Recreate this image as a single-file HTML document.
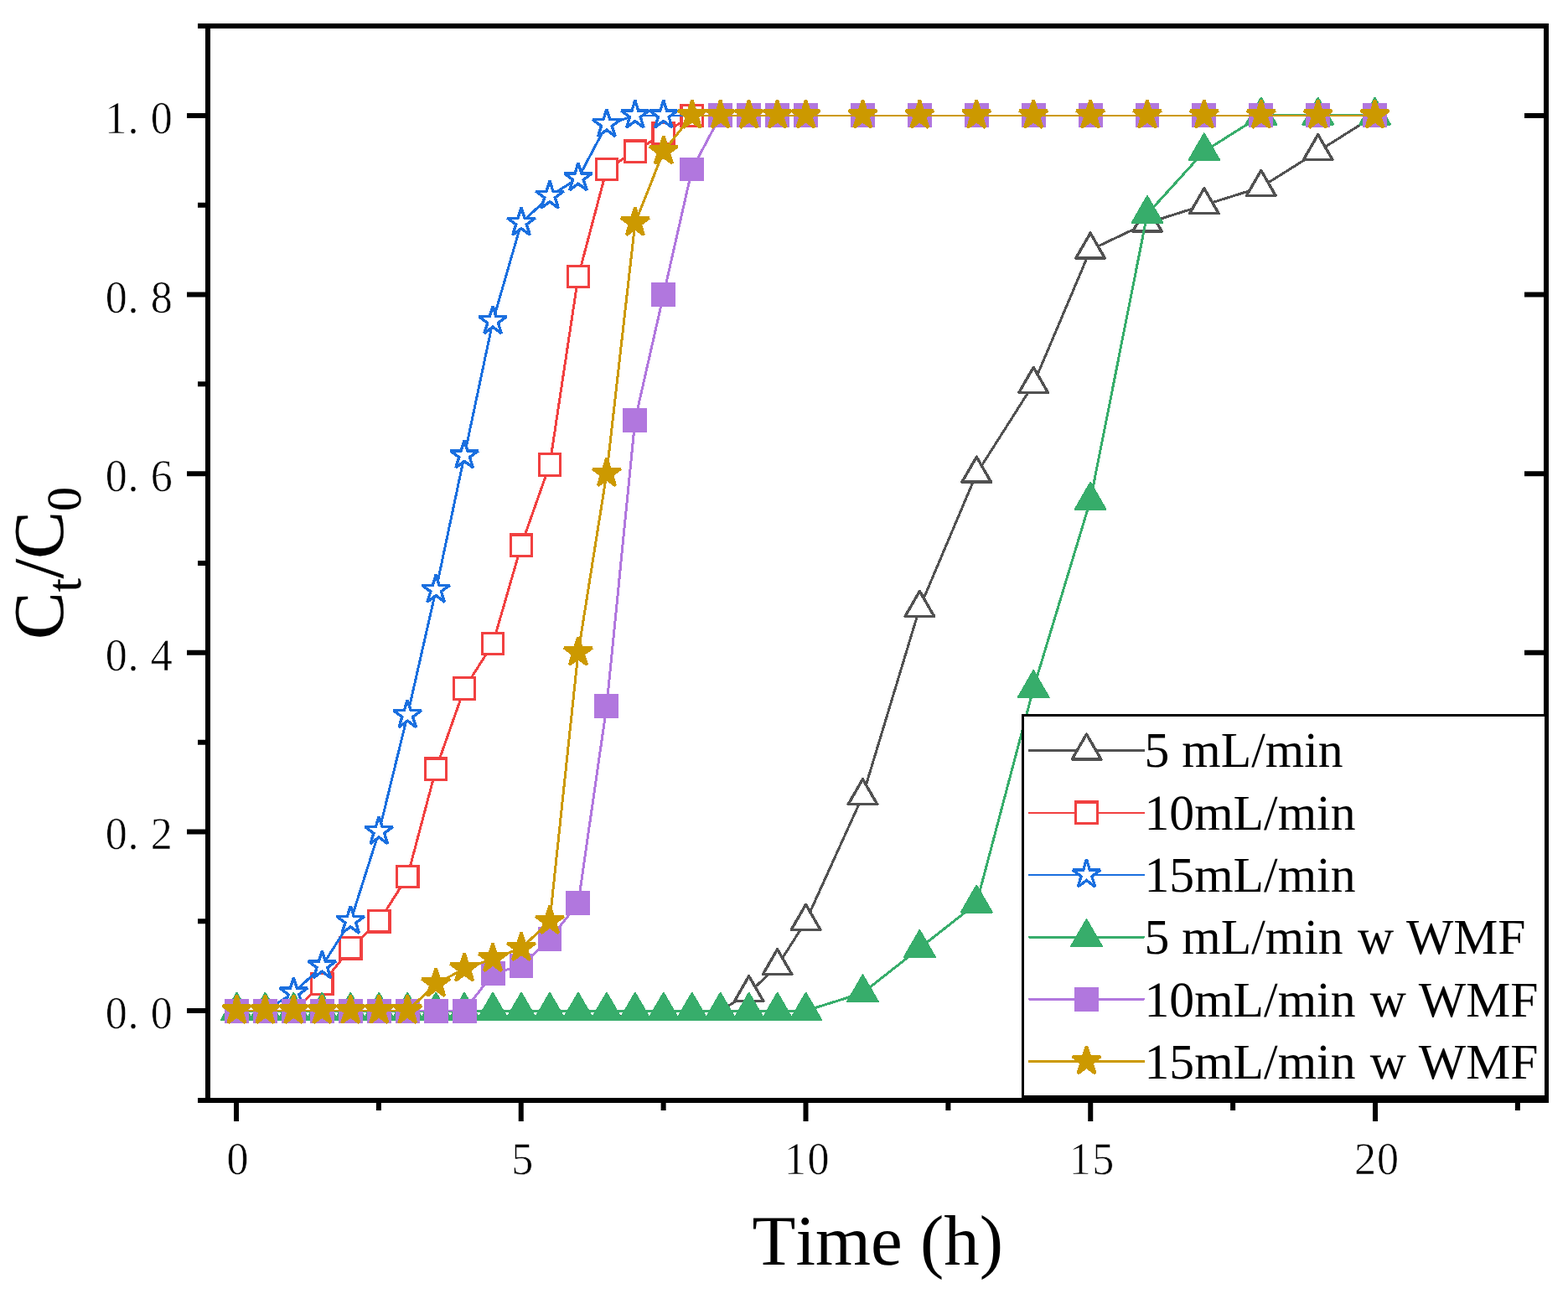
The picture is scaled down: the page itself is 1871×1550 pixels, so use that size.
<!DOCTYPE html>
<html lang="en">
<head>
<meta charset="utf-8">
<title>Ct/C0 vs Time (h)</title>
<style>
html,body{margin:0;padding:0;background:#fff;}
body{width:1871px;height:1550px;overflow:hidden;}
svg{display:block;}
text{fill:#000;font-kerning:none;font-variant-ligatures:none;text-rendering:geometricPrecision;}
.tick{font-family:"Liberation Serif",serif;font-size:54.5px;stroke:#fff;stroke-width:0.6px;}
.leg{font-family:"Liberation Serif",serif;font-size:59.7px;}
.ttl{font-family:"Liberation Serif",serif;font-size:84.9px;}
</style>
</head>
<body>
<svg width="1871" height="1550" viewBox="0 0 1871 1550">
<rect x="0" y="0" width="1871" height="1550" fill="#fff"/>
<g id="series" fill="none" shape-rendering="crispEdges">
<g>
<path d="M282.5 1206.1L316.45 1206.1M316.45 1206.1L350.4 1206.1M350.4 1206.1L384.36 1206.1M384.36 1206.1L418.31 1206.1M418.31 1206.1L452.26 1206.1M452.26 1206.1L486.22 1206.1M486.22 1206.1L520.17 1206.1M520.17 1206.1L554.12 1206.1M554.12 1206.1L588.07 1206.1M588.07 1206.1L622.02 1206.1M622.02 1206.1L655.98 1206.1M655.98 1206.1L689.93 1206.1M689.93 1206.1L723.88 1206.1M723.88 1206.1L757.84 1206.1M757.84 1206.1L791.79 1206.1M791.79 1206.1L825.74 1206.1M825.74 1206.1L859.69 1206.1" fill="none" stroke="#515151" stroke-width="3" stroke-linecap="butt"/>
<path d="M859.69 1206.1L893.64 1184.74M893.64 1184.74L927.6 1152.69M927.6 1152.69L961.55 1099.28M961.55 1099.28L1029.45 949.73M1029.45 949.73L1097.36 725.41M1097.36 725.41L1165.26 565.18M1165.26 565.18L1233.17 458.36M1233.17 458.36L1301.08 298.13M1301.08 298.13L1368.98 266.08M1368.98 266.08L1436.88 244.72M1436.88 244.72L1504.79 223.36M1504.79 223.36L1572.69 180.63M1572.69 180.63L1640.6 137.9" fill="none" stroke="#515151" stroke-width="3" stroke-linecap="round"/>
<path d="M282.5 1186.1L299.82 1216.1L265.18 1216.1Z" fill="#fff" stroke="#515151" stroke-width="3.4" stroke-linejoin="round"/>
<path d="M316.45 1186.1L333.77 1216.1L299.13 1216.1Z" fill="#fff" stroke="#515151" stroke-width="3.4" stroke-linejoin="round"/>
<path d="M350.4 1186.1L367.73 1216.1L333.08 1216.1Z" fill="#fff" stroke="#515151" stroke-width="3.4" stroke-linejoin="round"/>
<path d="M384.36 1186.1L401.68 1216.1L367.04 1216.1Z" fill="#fff" stroke="#515151" stroke-width="3.4" stroke-linejoin="round"/>
<path d="M418.31 1186.1L435.63 1216.1L400.99 1216.1Z" fill="#fff" stroke="#515151" stroke-width="3.4" stroke-linejoin="round"/>
<path d="M452.26 1186.1L469.58 1216.1L434.94 1216.1Z" fill="#fff" stroke="#515151" stroke-width="3.4" stroke-linejoin="round"/>
<path d="M486.22 1186.1L503.54 1216.1L468.89 1216.1Z" fill="#fff" stroke="#515151" stroke-width="3.4" stroke-linejoin="round"/>
<path d="M520.17 1186.1L537.49 1216.1L502.85 1216.1Z" fill="#fff" stroke="#515151" stroke-width="3.4" stroke-linejoin="round"/>
<path d="M554.12 1186.1L571.44 1216.1L536.8 1216.1Z" fill="#fff" stroke="#515151" stroke-width="3.4" stroke-linejoin="round"/>
<path d="M588.07 1186.1L605.39 1216.1L570.75 1216.1Z" fill="#fff" stroke="#515151" stroke-width="3.4" stroke-linejoin="round"/>
<path d="M622.02 1186.1L639.35 1216.1L604.7 1216.1Z" fill="#fff" stroke="#515151" stroke-width="3.4" stroke-linejoin="round"/>
<path d="M655.98 1186.1L673.3 1216.1L638.66 1216.1Z" fill="#fff" stroke="#515151" stroke-width="3.4" stroke-linejoin="round"/>
<path d="M689.93 1186.1L707.25 1216.1L672.61 1216.1Z" fill="#fff" stroke="#515151" stroke-width="3.4" stroke-linejoin="round"/>
<path d="M723.88 1186.1L741.2 1216.1L706.56 1216.1Z" fill="#fff" stroke="#515151" stroke-width="3.4" stroke-linejoin="round"/>
<path d="M757.84 1186.1L775.16 1216.1L740.51 1216.1Z" fill="#fff" stroke="#515151" stroke-width="3.4" stroke-linejoin="round"/>
<path d="M791.79 1186.1L809.11 1216.1L774.47 1216.1Z" fill="#fff" stroke="#515151" stroke-width="3.4" stroke-linejoin="round"/>
<path d="M825.74 1186.1L843.06 1216.1L808.42 1216.1Z" fill="#fff" stroke="#515151" stroke-width="3.4" stroke-linejoin="round"/>
<path d="M859.69 1186.1L877.01 1216.1L842.37 1216.1Z" fill="#fff" stroke="#515151" stroke-width="3.4" stroke-linejoin="round"/>
<path d="M893.64 1164.74L910.97 1194.74L876.32 1194.74Z" fill="#fff" stroke="#515151" stroke-width="3.4" stroke-linejoin="round"/>
<path d="M927.6 1132.69L944.92 1162.69L910.28 1162.69Z" fill="#fff" stroke="#515151" stroke-width="3.4" stroke-linejoin="round"/>
<path d="M961.55 1079.28L978.87 1109.28L944.23 1109.28Z" fill="#fff" stroke="#515151" stroke-width="3.4" stroke-linejoin="round"/>
<path d="M1029.45 929.73L1046.78 959.73L1012.13 959.73Z" fill="#fff" stroke="#515151" stroke-width="3.4" stroke-linejoin="round"/>
<path d="M1097.36 705.41L1114.68 735.41L1080.04 735.41Z" fill="#fff" stroke="#515151" stroke-width="3.4" stroke-linejoin="round"/>
<path d="M1165.26 545.18L1182.59 575.18L1147.94 575.18Z" fill="#fff" stroke="#515151" stroke-width="3.4" stroke-linejoin="round"/>
<path d="M1233.17 438.36L1250.49 468.36L1215.85 468.36Z" fill="#fff" stroke="#515151" stroke-width="3.4" stroke-linejoin="round"/>
<path d="M1301.08 278.13L1318.4 308.13L1283.75 308.13Z" fill="#fff" stroke="#515151" stroke-width="3.4" stroke-linejoin="round"/>
<path d="M1368.98 246.08L1386.3 276.08L1351.66 276.08Z" fill="#fff" stroke="#515151" stroke-width="3.4" stroke-linejoin="round"/>
<path d="M1436.88 224.72L1454.21 254.72L1419.56 254.72Z" fill="#fff" stroke="#515151" stroke-width="3.4" stroke-linejoin="round"/>
<path d="M1504.79 203.36L1522.11 233.36L1487.47 233.36Z" fill="#fff" stroke="#515151" stroke-width="3.4" stroke-linejoin="round"/>
<path d="M1572.69 160.63L1590.02 190.63L1555.37 190.63Z" fill="#fff" stroke="#515151" stroke-width="3.4" stroke-linejoin="round"/>
<path d="M1640.6 117.9L1657.92 147.9L1623.28 147.9Z" fill="#fff" stroke="#515151" stroke-width="3.4" stroke-linejoin="round"/>
</g>
<g>
<path d="M282.5 1206.1L316.45 1206.1M316.45 1206.1L350.4 1206.1M825.74 137.9L859.69 137.9M859.69 137.9L893.64 137.9M893.64 137.9L927.6 137.9M927.6 137.9L961.55 137.9M961.55 137.9L1029.45 137.9M1029.45 137.9L1097.36 137.9M1097.36 137.9L1165.26 137.9M1165.26 137.9L1233.17 137.9M1233.17 137.9L1301.08 137.9M1301.08 137.9L1368.98 137.9M1368.98 137.9L1436.88 137.9M1436.88 137.9L1504.79 137.9M1504.79 137.9L1572.69 137.9M1572.69 137.9L1640.6 137.9" fill="none" stroke="#F14040" stroke-width="2.1" stroke-linecap="butt"/>
<path d="M350.4 1206.1L384.36 1174.05M384.36 1174.05L418.31 1131.33M418.31 1131.33L452.26 1099.28M452.26 1099.28L486.22 1045.87M486.22 1045.87L520.17 917.69M520.17 917.69L554.12 821.55M554.12 821.55L588.07 768.14M588.07 768.14L622.02 650.64M622.02 650.64L655.98 554.5M655.98 554.5L689.93 330.18M689.93 330.18L723.88 201.99M723.88 201.99L757.84 180.63M757.84 180.63L791.79 159.26M791.79 159.26L825.74 137.9" fill="none" stroke="#F14040" stroke-width="3" stroke-linecap="round"/>
<path d="M269.8 1193.4L295.2 1193.4L295.2 1218.8L269.8 1218.8Z" fill="#fff" stroke="#F14040" stroke-width="3.2" stroke-linejoin="miter"/>
<path d="M303.75 1193.4L329.15 1193.4L329.15 1218.8L303.75 1218.8Z" fill="#fff" stroke="#F14040" stroke-width="3.2" stroke-linejoin="miter"/>
<path d="M337.7 1193.4L363.1 1193.4L363.1 1218.8L337.7 1218.8Z" fill="#fff" stroke="#F14040" stroke-width="3.2" stroke-linejoin="miter"/>
<path d="M371.66 1161.35L397.06 1161.35L397.06 1186.75L371.66 1186.75Z" fill="#fff" stroke="#F14040" stroke-width="3.2" stroke-linejoin="miter"/>
<path d="M405.61 1118.63L431.01 1118.63L431.01 1144.03L405.61 1144.03Z" fill="#fff" stroke="#F14040" stroke-width="3.2" stroke-linejoin="miter"/>
<path d="M439.56 1086.58L464.96 1086.58L464.96 1111.98L439.56 1111.98Z" fill="#fff" stroke="#F14040" stroke-width="3.2" stroke-linejoin="miter"/>
<path d="M473.52 1033.17L498.92 1033.17L498.92 1058.57L473.52 1058.57Z" fill="#fff" stroke="#F14040" stroke-width="3.2" stroke-linejoin="miter"/>
<path d="M507.47 904.99L532.87 904.99L532.87 930.39L507.47 930.39Z" fill="#fff" stroke="#F14040" stroke-width="3.2" stroke-linejoin="miter"/>
<path d="M541.42 808.85L566.82 808.85L566.82 834.25L541.42 834.25Z" fill="#fff" stroke="#F14040" stroke-width="3.2" stroke-linejoin="miter"/>
<path d="M575.37 755.44L600.77 755.44L600.77 780.84L575.37 780.84Z" fill="#fff" stroke="#F14040" stroke-width="3.2" stroke-linejoin="miter"/>
<path d="M609.32 637.94L634.73 637.94L634.73 663.34L609.32 663.34Z" fill="#fff" stroke="#F14040" stroke-width="3.2" stroke-linejoin="miter"/>
<path d="M643.28 541.8L668.68 541.8L668.68 567.2L643.28 567.2Z" fill="#fff" stroke="#F14040" stroke-width="3.2" stroke-linejoin="miter"/>
<path d="M677.23 317.48L702.63 317.48L702.63 342.88L677.23 342.88Z" fill="#fff" stroke="#F14040" stroke-width="3.2" stroke-linejoin="miter"/>
<path d="M711.18 189.29L736.58 189.29L736.58 214.69L711.18 214.69Z" fill="#fff" stroke="#F14040" stroke-width="3.2" stroke-linejoin="miter"/>
<path d="M745.13 167.93L770.54 167.93L770.54 193.33L745.13 193.33Z" fill="#fff" stroke="#F14040" stroke-width="3.2" stroke-linejoin="miter"/>
<path d="M779.09 146.56L804.49 146.56L804.49 171.96L779.09 171.96Z" fill="#fff" stroke="#F14040" stroke-width="3.2" stroke-linejoin="miter"/>
<path d="M813.04 125.2L838.44 125.2L838.44 150.6L813.04 150.6Z" fill="#fff" stroke="#F14040" stroke-width="3.2" stroke-linejoin="miter"/>
<path d="M846.99 125.2L872.39 125.2L872.39 150.6L846.99 150.6Z" fill="#fff" stroke="#F14040" stroke-width="3.2" stroke-linejoin="miter"/>
<path d="M880.94 125.2L906.35 125.2L906.35 150.6L880.94 150.6Z" fill="#fff" stroke="#F14040" stroke-width="3.2" stroke-linejoin="miter"/>
<path d="M914.9 125.2L940.3 125.2L940.3 150.6L914.9 150.6Z" fill="#fff" stroke="#F14040" stroke-width="3.2" stroke-linejoin="miter"/>
<path d="M948.85 125.2L974.25 125.2L974.25 150.6L948.85 150.6Z" fill="#fff" stroke="#F14040" stroke-width="3.2" stroke-linejoin="miter"/>
<path d="M1016.75 125.2L1042.15 125.2L1042.15 150.6L1016.75 150.6Z" fill="#fff" stroke="#F14040" stroke-width="3.2" stroke-linejoin="miter"/>
<path d="M1084.66 125.2L1110.06 125.2L1110.06 150.6L1084.66 150.6Z" fill="#fff" stroke="#F14040" stroke-width="3.2" stroke-linejoin="miter"/>
<path d="M1152.56 125.2L1177.96 125.2L1177.96 150.6L1152.56 150.6Z" fill="#fff" stroke="#F14040" stroke-width="3.2" stroke-linejoin="miter"/>
<path d="M1220.47 125.2L1245.87 125.2L1245.87 150.6L1220.47 150.6Z" fill="#fff" stroke="#F14040" stroke-width="3.2" stroke-linejoin="miter"/>
<path d="M1288.38 125.2L1313.78 125.2L1313.78 150.6L1288.38 150.6Z" fill="#fff" stroke="#F14040" stroke-width="3.2" stroke-linejoin="miter"/>
<path d="M1356.28 125.2L1381.68 125.2L1381.68 150.6L1356.28 150.6Z" fill="#fff" stroke="#F14040" stroke-width="3.2" stroke-linejoin="miter"/>
<path d="M1424.18 125.2L1449.59 125.2L1449.59 150.6L1424.18 150.6Z" fill="#fff" stroke="#F14040" stroke-width="3.2" stroke-linejoin="miter"/>
<path d="M1492.09 125.2L1517.49 125.2L1517.49 150.6L1492.09 150.6Z" fill="#fff" stroke="#F14040" stroke-width="3.2" stroke-linejoin="miter"/>
<path d="M1559.99 125.2L1585.39 125.2L1585.39 150.6L1559.99 150.6Z" fill="#fff" stroke="#F14040" stroke-width="3.2" stroke-linejoin="miter"/>
<path d="M1627.9 125.2L1653.3 125.2L1653.3 150.6L1627.9 150.6Z" fill="#fff" stroke="#F14040" stroke-width="3.2" stroke-linejoin="miter"/>
</g>
<g>
<path d="M282.5 1206.1L316.45 1206.1M757.84 137.9L791.79 137.9M791.79 137.9L825.74 137.9M825.74 137.9L859.69 137.9M859.69 137.9L893.64 137.9M893.64 137.9L927.6 137.9M927.6 137.9L961.55 137.9M961.55 137.9L1029.45 137.9M1029.45 137.9L1097.36 137.9M1097.36 137.9L1165.26 137.9M1165.26 137.9L1233.17 137.9M1233.17 137.9L1301.08 137.9M1301.08 137.9L1368.98 137.9M1368.98 137.9L1436.88 137.9M1436.88 137.9L1504.79 137.9M1504.79 137.9L1572.69 137.9M1572.69 137.9L1640.6 137.9" fill="none" stroke="#1A6FDF" stroke-width="2.1" stroke-linecap="butt"/>
<path d="M316.45 1206.1L350.4 1184.74M350.4 1184.74L384.36 1152.69M384.36 1152.69L418.31 1099.28M418.31 1099.28L452.26 992.46M452.26 992.46L486.22 853.59M486.22 853.59L520.17 704.05M520.17 704.05L554.12 543.82M554.12 543.82L588.07 383.59M588.07 383.59L622.02 266.08M622.02 266.08L655.98 234.04M655.98 234.04L689.93 212.67M689.93 212.67L723.88 148.58M723.88 148.58L757.84 137.9" fill="none" stroke="#1A6FDF" stroke-width="3" stroke-linecap="round"/>
<path d="M282.5 1187.9L286.42 1200.27L299.1 1200.27L288.84 1207.91L292.76 1220.28L282.5 1212.64L272.24 1220.28L276.16 1207.91L265.9 1200.27L278.58 1200.27Z" fill="#fff" stroke="#1A6FDF" stroke-width="3.4" stroke-linejoin="miter" stroke-miterlimit="2"/>
<path d="M316.45 1187.9L320.37 1200.27L333.05 1200.27L322.79 1207.91L326.71 1220.28L316.45 1212.64L306.19 1220.28L310.11 1207.91L299.85 1200.27L312.53 1200.27Z" fill="#fff" stroke="#1A6FDF" stroke-width="3.4" stroke-linejoin="miter" stroke-miterlimit="2"/>
<path d="M350.4 1166.54L354.32 1178.9L367 1178.9L356.75 1186.55L360.66 1198.92L350.4 1191.27L340.15 1198.92L344.06 1186.55L333.81 1178.9L346.49 1178.9Z" fill="#fff" stroke="#1A6FDF" stroke-width="3.4" stroke-linejoin="miter" stroke-miterlimit="2"/>
<path d="M384.36 1134.49L388.28 1146.86L400.96 1146.86L390.7 1154.5L394.62 1166.87L384.36 1159.23L374.1 1166.87L378.02 1154.5L367.76 1146.86L380.44 1146.86Z" fill="#fff" stroke="#1A6FDF" stroke-width="3.4" stroke-linejoin="miter" stroke-miterlimit="2"/>
<path d="M418.31 1081.08L422.23 1093.45L434.91 1093.45L424.65 1101.09L428.57 1113.46L418.31 1105.82L408.05 1113.46L411.97 1101.09L401.71 1093.45L414.39 1093.45Z" fill="#fff" stroke="#1A6FDF" stroke-width="3.4" stroke-linejoin="miter" stroke-miterlimit="2"/>
<path d="M452.26 974.26L456.18 986.63L468.86 986.63L458.6 994.27L462.52 1006.64L452.26 999L442 1006.64L445.92 994.27L435.66 986.63L448.34 986.63Z" fill="#fff" stroke="#1A6FDF" stroke-width="3.4" stroke-linejoin="miter" stroke-miterlimit="2"/>
<path d="M486.22 835.39L490.13 847.76L502.81 847.76L492.56 855.41L496.47 867.78L486.22 860.13L475.96 867.78L479.87 855.41L469.62 847.76L482.3 847.76Z" fill="#fff" stroke="#1A6FDF" stroke-width="3.4" stroke-linejoin="miter" stroke-miterlimit="2"/>
<path d="M520.17 685.85L524.09 698.21L536.77 698.21L526.51 705.86L530.43 718.23L520.17 710.58L509.91 718.23L513.83 705.86L503.57 698.21L516.25 698.21Z" fill="#fff" stroke="#1A6FDF" stroke-width="3.4" stroke-linejoin="miter" stroke-miterlimit="2"/>
<path d="M554.12 525.62L558.04 537.98L570.72 537.98L560.46 545.63L564.38 558L554.12 550.35L543.86 558L547.78 545.63L537.52 537.98L550.2 537.98Z" fill="#fff" stroke="#1A6FDF" stroke-width="3.4" stroke-linejoin="miter" stroke-miterlimit="2"/>
<path d="M588.07 365.39L591.99 377.75L604.67 377.75L594.41 385.4L598.33 397.77L588.07 390.12L577.81 397.77L581.73 385.4L571.47 377.75L584.15 377.75Z" fill="#fff" stroke="#1A6FDF" stroke-width="3.4" stroke-linejoin="miter" stroke-miterlimit="2"/>
<path d="M622.02 247.88L625.94 260.25L638.62 260.25L628.37 267.9L632.28 280.27L622.02 272.62L611.77 280.27L615.68 267.9L605.43 260.25L618.11 260.25Z" fill="#fff" stroke="#1A6FDF" stroke-width="3.4" stroke-linejoin="miter" stroke-miterlimit="2"/>
<path d="M655.98 215.84L659.9 228.21L672.58 228.21L662.32 235.85L666.24 248.22L655.98 240.58L645.72 248.22L649.64 235.85L639.38 228.21L652.06 228.21Z" fill="#fff" stroke="#1A6FDF" stroke-width="3.4" stroke-linejoin="miter" stroke-miterlimit="2"/>
<path d="M689.93 194.47L693.85 206.84L706.53 206.84L696.27 214.49L700.19 226.86L689.93 219.21L679.67 226.86L683.59 214.49L673.33 206.84L686.01 206.84Z" fill="#fff" stroke="#1A6FDF" stroke-width="3.4" stroke-linejoin="miter" stroke-miterlimit="2"/>
<path d="M723.88 130.38L727.8 142.75L740.48 142.75L730.22 150.39L734.14 162.76L723.88 155.12L713.62 162.76L717.54 150.39L707.28 142.75L719.96 142.75Z" fill="#fff" stroke="#1A6FDF" stroke-width="3.4" stroke-linejoin="miter" stroke-miterlimit="2"/>
<path d="M757.84 119.7L761.75 132.07L774.43 132.07L764.18 139.71L768.09 152.08L757.84 144.44L747.58 152.08L751.49 139.71L741.24 132.07L753.92 132.07Z" fill="#fff" stroke="#1A6FDF" stroke-width="3.4" stroke-linejoin="miter" stroke-miterlimit="2"/>
<path d="M791.79 119.7L795.71 132.07L808.39 132.07L798.13 139.71L802.05 152.08L791.79 144.44L781.53 152.08L785.45 139.71L775.19 132.07L787.87 132.07Z" fill="#fff" stroke="#1A6FDF" stroke-width="3.4" stroke-linejoin="miter" stroke-miterlimit="2"/>
<path d="M825.74 119.7L829.66 132.07L842.34 132.07L832.08 139.71L836 152.08L825.74 144.44L815.48 152.08L819.4 139.71L809.14 132.07L821.82 132.07Z" fill="#fff" stroke="#1A6FDF" stroke-width="3.4" stroke-linejoin="miter" stroke-miterlimit="2"/>
<path d="M859.69 119.7L863.61 132.07L876.29 132.07L866.03 139.71L869.95 152.08L859.69 144.44L849.43 152.08L853.35 139.71L843.09 132.07L855.77 132.07Z" fill="#fff" stroke="#1A6FDF" stroke-width="3.4" stroke-linejoin="miter" stroke-miterlimit="2"/>
<path d="M893.64 119.7L897.56 132.07L910.24 132.07L899.99 139.71L903.9 152.08L893.64 144.44L883.39 152.08L887.3 139.71L877.05 132.07L889.73 132.07Z" fill="#fff" stroke="#1A6FDF" stroke-width="3.4" stroke-linejoin="miter" stroke-miterlimit="2"/>
<path d="M927.6 119.7L931.52 132.07L944.2 132.07L933.94 139.71L937.86 152.08L927.6 144.44L917.34 152.08L921.26 139.71L911 132.07L923.68 132.07Z" fill="#fff" stroke="#1A6FDF" stroke-width="3.4" stroke-linejoin="miter" stroke-miterlimit="2"/>
<path d="M961.55 119.7L965.47 132.07L978.15 132.07L967.89 139.71L971.81 152.08L961.55 144.44L951.29 152.08L955.21 139.71L944.95 132.07L957.63 132.07Z" fill="#fff" stroke="#1A6FDF" stroke-width="3.4" stroke-linejoin="miter" stroke-miterlimit="2"/>
<path d="M1029.45 119.7L1033.37 132.07L1046.05 132.07L1035.8 139.71L1039.71 152.08L1029.45 144.44L1019.2 152.08L1023.11 139.71L1012.86 132.07L1025.54 132.07Z" fill="#fff" stroke="#1A6FDF" stroke-width="3.4" stroke-linejoin="miter" stroke-miterlimit="2"/>
<path d="M1097.36 119.7L1101.28 132.07L1113.96 132.07L1103.7 139.71L1107.62 152.08L1097.36 144.44L1087.1 152.08L1091.02 139.71L1080.76 132.07L1093.44 132.07Z" fill="#fff" stroke="#1A6FDF" stroke-width="3.4" stroke-linejoin="miter" stroke-miterlimit="2"/>
<path d="M1165.26 119.7L1169.18 132.07L1181.86 132.07L1171.61 139.71L1175.52 152.08L1165.26 144.44L1155.01 152.08L1158.92 139.71L1148.67 132.07L1161.35 132.07Z" fill="#fff" stroke="#1A6FDF" stroke-width="3.4" stroke-linejoin="miter" stroke-miterlimit="2"/>
<path d="M1233.17 119.7L1237.09 132.07L1249.77 132.07L1239.51 139.71L1243.43 152.08L1233.17 144.44L1222.91 152.08L1226.83 139.71L1216.57 132.07L1229.25 132.07Z" fill="#fff" stroke="#1A6FDF" stroke-width="3.4" stroke-linejoin="miter" stroke-miterlimit="2"/>
<path d="M1301.08 119.7L1304.99 132.07L1317.67 132.07L1307.42 139.71L1311.33 152.08L1301.08 144.44L1290.82 152.08L1294.73 139.71L1284.48 132.07L1297.16 132.07Z" fill="#fff" stroke="#1A6FDF" stroke-width="3.4" stroke-linejoin="miter" stroke-miterlimit="2"/>
<path d="M1368.98 119.7L1372.9 132.07L1385.58 132.07L1375.32 139.71L1379.24 152.08L1368.98 144.44L1358.72 152.08L1362.64 139.71L1352.38 132.07L1365.06 132.07Z" fill="#fff" stroke="#1A6FDF" stroke-width="3.4" stroke-linejoin="miter" stroke-miterlimit="2"/>
<path d="M1436.88 119.7L1440.8 132.07L1453.48 132.07L1443.23 139.71L1447.14 152.08L1436.88 144.44L1426.63 152.08L1430.54 139.71L1420.29 132.07L1432.97 132.07Z" fill="#fff" stroke="#1A6FDF" stroke-width="3.4" stroke-linejoin="miter" stroke-miterlimit="2"/>
<path d="M1504.79 119.7L1508.71 132.07L1521.39 132.07L1511.13 139.71L1515.05 152.08L1504.79 144.44L1494.53 152.08L1498.45 139.71L1488.19 132.07L1500.87 132.07Z" fill="#fff" stroke="#1A6FDF" stroke-width="3.4" stroke-linejoin="miter" stroke-miterlimit="2"/>
<path d="M1572.69 119.7L1576.61 132.07L1589.29 132.07L1579.04 139.71L1582.95 152.08L1572.69 144.44L1562.44 152.08L1566.35 139.71L1556.1 132.07L1568.78 132.07Z" fill="#fff" stroke="#1A6FDF" stroke-width="3.4" stroke-linejoin="miter" stroke-miterlimit="2"/>
<path d="M1640.6 119.7L1644.52 132.07L1657.2 132.07L1646.94 139.71L1650.86 152.08L1640.6 144.44L1630.34 152.08L1634.26 139.71L1624 132.07L1636.68 132.07Z" fill="#fff" stroke="#1A6FDF" stroke-width="3.4" stroke-linejoin="miter" stroke-miterlimit="2"/>
</g>
<g>
<path d="M282.5 1206.1L316.45 1206.1M316.45 1206.1L350.4 1206.1M350.4 1206.1L384.36 1206.1M384.36 1206.1L418.31 1206.1M418.31 1206.1L452.26 1206.1M452.26 1206.1L486.22 1206.1M486.22 1206.1L520.17 1206.1M520.17 1206.1L554.12 1206.1M554.12 1206.1L588.07 1206.1M588.07 1206.1L622.02 1206.1M622.02 1206.1L655.98 1206.1M655.98 1206.1L689.93 1206.1M689.93 1206.1L723.88 1206.1M723.88 1206.1L757.84 1206.1M757.84 1206.1L791.79 1206.1M791.79 1206.1L825.74 1206.1M825.74 1206.1L859.69 1206.1M859.69 1206.1L893.64 1206.1M893.64 1206.1L927.6 1206.1M927.6 1206.1L961.55 1206.1M1504.79 137.9L1572.69 137.9M1572.69 137.9L1640.6 137.9" fill="none" stroke="#37AD6B" stroke-width="3" stroke-linecap="butt"/>
<path d="M961.55 1206.1L1029.45 1184.74M1029.45 1184.74L1097.36 1131.33M1097.36 1131.33L1165.26 1077.92M1165.26 1077.92L1233.17 821.55M1233.17 821.55L1301.08 597.23M1301.08 597.23L1368.98 255.4M1368.98 255.4L1436.88 180.63M1436.88 180.63L1504.79 137.9" fill="none" stroke="#37AD6B" stroke-width="3" stroke-linecap="round"/>
<path d="M282.5 1184.9L300.86 1216.7L264.14 1216.7Z" fill="#37AD6B" stroke="#37AD6B" stroke-width="2.2" stroke-linejoin="round"/>
<path d="M316.45 1184.9L334.81 1216.7L298.09 1216.7Z" fill="#37AD6B" stroke="#37AD6B" stroke-width="2.2" stroke-linejoin="round"/>
<path d="M350.4 1184.9L368.76 1216.7L332.05 1216.7Z" fill="#37AD6B" stroke="#37AD6B" stroke-width="2.2" stroke-linejoin="round"/>
<path d="M384.36 1184.9L402.72 1216.7L366 1216.7Z" fill="#37AD6B" stroke="#37AD6B" stroke-width="2.2" stroke-linejoin="round"/>
<path d="M418.31 1184.9L436.67 1216.7L399.95 1216.7Z" fill="#37AD6B" stroke="#37AD6B" stroke-width="2.2" stroke-linejoin="round"/>
<path d="M452.26 1184.9L470.62 1216.7L433.9 1216.7Z" fill="#37AD6B" stroke="#37AD6B" stroke-width="2.2" stroke-linejoin="round"/>
<path d="M486.22 1184.9L504.57 1216.7L467.86 1216.7Z" fill="#37AD6B" stroke="#37AD6B" stroke-width="2.2" stroke-linejoin="round"/>
<path d="M520.17 1184.9L538.53 1216.7L501.81 1216.7Z" fill="#37AD6B" stroke="#37AD6B" stroke-width="2.2" stroke-linejoin="round"/>
<path d="M554.12 1184.9L572.48 1216.7L535.76 1216.7Z" fill="#37AD6B" stroke="#37AD6B" stroke-width="2.2" stroke-linejoin="round"/>
<path d="M588.07 1184.9L606.43 1216.7L569.71 1216.7Z" fill="#37AD6B" stroke="#37AD6B" stroke-width="2.2" stroke-linejoin="round"/>
<path d="M622.02 1184.9L640.38 1216.7L603.67 1216.7Z" fill="#37AD6B" stroke="#37AD6B" stroke-width="2.2" stroke-linejoin="round"/>
<path d="M655.98 1184.9L674.34 1216.7L637.62 1216.7Z" fill="#37AD6B" stroke="#37AD6B" stroke-width="2.2" stroke-linejoin="round"/>
<path d="M689.93 1184.9L708.29 1216.7L671.57 1216.7Z" fill="#37AD6B" stroke="#37AD6B" stroke-width="2.2" stroke-linejoin="round"/>
<path d="M723.88 1184.9L742.24 1216.7L705.52 1216.7Z" fill="#37AD6B" stroke="#37AD6B" stroke-width="2.2" stroke-linejoin="round"/>
<path d="M757.84 1184.9L776.19 1216.7L739.48 1216.7Z" fill="#37AD6B" stroke="#37AD6B" stroke-width="2.2" stroke-linejoin="round"/>
<path d="M791.79 1184.9L810.15 1216.7L773.43 1216.7Z" fill="#37AD6B" stroke="#37AD6B" stroke-width="2.2" stroke-linejoin="round"/>
<path d="M825.74 1184.9L844.1 1216.7L807.38 1216.7Z" fill="#37AD6B" stroke="#37AD6B" stroke-width="2.2" stroke-linejoin="round"/>
<path d="M859.69 1184.9L878.05 1216.7L841.33 1216.7Z" fill="#37AD6B" stroke="#37AD6B" stroke-width="2.2" stroke-linejoin="round"/>
<path d="M893.64 1184.9L912 1216.7L875.29 1216.7Z" fill="#37AD6B" stroke="#37AD6B" stroke-width="2.2" stroke-linejoin="round"/>
<path d="M927.6 1184.9L945.96 1216.7L909.24 1216.7Z" fill="#37AD6B" stroke="#37AD6B" stroke-width="2.2" stroke-linejoin="round"/>
<path d="M961.55 1184.9L979.91 1216.7L943.19 1216.7Z" fill="#37AD6B" stroke="#37AD6B" stroke-width="2.2" stroke-linejoin="round"/>
<path d="M1029.45 1163.54L1047.81 1195.34L1011.1 1195.34Z" fill="#37AD6B" stroke="#37AD6B" stroke-width="2.2" stroke-linejoin="round"/>
<path d="M1097.36 1110.13L1115.72 1141.93L1079 1141.93Z" fill="#37AD6B" stroke="#37AD6B" stroke-width="2.2" stroke-linejoin="round"/>
<path d="M1165.26 1056.72L1183.62 1088.52L1146.91 1088.52Z" fill="#37AD6B" stroke="#37AD6B" stroke-width="2.2" stroke-linejoin="round"/>
<path d="M1233.17 800.35L1251.53 832.15L1214.81 832.15Z" fill="#37AD6B" stroke="#37AD6B" stroke-width="2.2" stroke-linejoin="round"/>
<path d="M1301.08 576.03L1319.43 607.83L1282.72 607.83Z" fill="#37AD6B" stroke="#37AD6B" stroke-width="2.2" stroke-linejoin="round"/>
<path d="M1368.98 234.2L1387.34 266L1350.62 266Z" fill="#37AD6B" stroke="#37AD6B" stroke-width="2.2" stroke-linejoin="round"/>
<path d="M1436.88 159.43L1455.24 191.23L1418.53 191.23Z" fill="#37AD6B" stroke="#37AD6B" stroke-width="2.2" stroke-linejoin="round"/>
<path d="M1504.79 116.7L1523.15 148.5L1486.43 148.5Z" fill="#37AD6B" stroke="#37AD6B" stroke-width="2.2" stroke-linejoin="round"/>
<path d="M1572.69 116.7L1591.05 148.5L1554.34 148.5Z" fill="#37AD6B" stroke="#37AD6B" stroke-width="2.2" stroke-linejoin="round"/>
<path d="M1640.6 116.7L1658.96 148.5L1622.24 148.5Z" fill="#37AD6B" stroke="#37AD6B" stroke-width="2.2" stroke-linejoin="round"/>
</g>
<g>
<path d="M282.5 1206.1L316.45 1206.1M316.45 1206.1L350.4 1206.1M350.4 1206.1L384.36 1206.1M384.36 1206.1L418.31 1206.1M418.31 1206.1L452.26 1206.1M452.26 1206.1L486.22 1206.1M486.22 1206.1L520.17 1206.1M520.17 1206.1L554.12 1206.1M859.69 137.9L893.64 137.9M893.64 137.9L927.6 137.9M927.6 137.9L961.55 137.9M961.55 137.9L1029.45 137.9M1029.45 137.9L1097.36 137.9M1097.36 137.9L1165.26 137.9M1165.26 137.9L1233.17 137.9M1233.17 137.9L1301.08 137.9M1301.08 137.9L1368.98 137.9M1368.98 137.9L1436.88 137.9M1436.88 137.9L1504.79 137.9M1504.79 137.9L1572.69 137.9M1572.69 137.9L1640.6 137.9" fill="none" stroke="#B177DE" stroke-width="2.5" stroke-linecap="butt"/>
<path d="M554.12 1206.1L588.07 1161.77M588.07 1161.77L622.02 1152.16M622.02 1152.16L655.98 1120.64M655.98 1120.64L689.93 1077.92M689.93 1077.92L723.88 842.91M723.88 842.91L757.84 501.09M757.84 501.09L791.79 351.54M791.79 351.54L825.74 201.99M825.74 201.99L859.69 137.9" fill="none" stroke="#B177DE" stroke-width="3" stroke-linecap="round"/>
<path d="M269.05 1192.65L295.95 1192.65L295.95 1219.55L269.05 1219.55Z" fill="#B177DE" stroke="#B177DE" stroke-width="2" stroke-linejoin="miter"/>
<path d="M303 1192.65L329.9 1192.65L329.9 1219.55L303 1219.55Z" fill="#B177DE" stroke="#B177DE" stroke-width="2" stroke-linejoin="miter"/>
<path d="M336.95 1192.65L363.85 1192.65L363.85 1219.55L336.95 1219.55Z" fill="#B177DE" stroke="#B177DE" stroke-width="2" stroke-linejoin="miter"/>
<path d="M370.91 1192.65L397.81 1192.65L397.81 1219.55L370.91 1219.55Z" fill="#B177DE" stroke="#B177DE" stroke-width="2" stroke-linejoin="miter"/>
<path d="M404.86 1192.65L431.76 1192.65L431.76 1219.55L404.86 1219.55Z" fill="#B177DE" stroke="#B177DE" stroke-width="2" stroke-linejoin="miter"/>
<path d="M438.81 1192.65L465.71 1192.65L465.71 1219.55L438.81 1219.55Z" fill="#B177DE" stroke="#B177DE" stroke-width="2" stroke-linejoin="miter"/>
<path d="M472.77 1192.65L499.67 1192.65L499.67 1219.55L472.77 1219.55Z" fill="#B177DE" stroke="#B177DE" stroke-width="2" stroke-linejoin="miter"/>
<path d="M506.72 1192.65L533.62 1192.65L533.62 1219.55L506.72 1219.55Z" fill="#B177DE" stroke="#B177DE" stroke-width="2" stroke-linejoin="miter"/>
<path d="M540.67 1192.65L567.57 1192.65L567.57 1219.55L540.67 1219.55Z" fill="#B177DE" stroke="#B177DE" stroke-width="2" stroke-linejoin="miter"/>
<path d="M574.62 1148.32L601.52 1148.32L601.52 1175.22L574.62 1175.22Z" fill="#B177DE" stroke="#B177DE" stroke-width="2" stroke-linejoin="miter"/>
<path d="M608.57 1138.71L635.48 1138.71L635.48 1165.61L608.57 1165.61Z" fill="#B177DE" stroke="#B177DE" stroke-width="2" stroke-linejoin="miter"/>
<path d="M642.53 1107.19L669.43 1107.19L669.43 1134.09L642.53 1134.09Z" fill="#B177DE" stroke="#B177DE" stroke-width="2" stroke-linejoin="miter"/>
<path d="M676.48 1064.47L703.38 1064.47L703.38 1091.37L676.48 1091.37Z" fill="#B177DE" stroke="#B177DE" stroke-width="2" stroke-linejoin="miter"/>
<path d="M710.43 829.46L737.33 829.46L737.33 856.36L710.43 856.36Z" fill="#B177DE" stroke="#B177DE" stroke-width="2" stroke-linejoin="miter"/>
<path d="M744.38 487.64L771.29 487.64L771.29 514.54L744.38 514.54Z" fill="#B177DE" stroke="#B177DE" stroke-width="2" stroke-linejoin="miter"/>
<path d="M778.34 338.09L805.24 338.09L805.24 364.99L778.34 364.99Z" fill="#B177DE" stroke="#B177DE" stroke-width="2" stroke-linejoin="miter"/>
<path d="M812.29 188.54L839.19 188.54L839.19 215.44L812.29 215.44Z" fill="#B177DE" stroke="#B177DE" stroke-width="2" stroke-linejoin="miter"/>
<path d="M846.24 124.45L873.14 124.45L873.14 151.35L846.24 151.35Z" fill="#B177DE" stroke="#B177DE" stroke-width="2" stroke-linejoin="miter"/>
<path d="M880.19 124.45L907.1 124.45L907.1 151.35L880.19 151.35Z" fill="#B177DE" stroke="#B177DE" stroke-width="2" stroke-linejoin="miter"/>
<path d="M914.15 124.45L941.05 124.45L941.05 151.35L914.15 151.35Z" fill="#B177DE" stroke="#B177DE" stroke-width="2" stroke-linejoin="miter"/>
<path d="M948.1 124.45L975 124.45L975 151.35L948.1 151.35Z" fill="#B177DE" stroke="#B177DE" stroke-width="2" stroke-linejoin="miter"/>
<path d="M1016 124.45L1042.9 124.45L1042.9 151.35L1016 151.35Z" fill="#B177DE" stroke="#B177DE" stroke-width="2" stroke-linejoin="miter"/>
<path d="M1083.91 124.45L1110.81 124.45L1110.81 151.35L1083.91 151.35Z" fill="#B177DE" stroke="#B177DE" stroke-width="2" stroke-linejoin="miter"/>
<path d="M1151.81 124.45L1178.71 124.45L1178.71 151.35L1151.81 151.35Z" fill="#B177DE" stroke="#B177DE" stroke-width="2" stroke-linejoin="miter"/>
<path d="M1219.72 124.45L1246.62 124.45L1246.62 151.35L1219.72 151.35Z" fill="#B177DE" stroke="#B177DE" stroke-width="2" stroke-linejoin="miter"/>
<path d="M1287.62 124.45L1314.53 124.45L1314.53 151.35L1287.62 151.35Z" fill="#B177DE" stroke="#B177DE" stroke-width="2" stroke-linejoin="miter"/>
<path d="M1355.53 124.45L1382.43 124.45L1382.43 151.35L1355.53 151.35Z" fill="#B177DE" stroke="#B177DE" stroke-width="2" stroke-linejoin="miter"/>
<path d="M1423.43 124.45L1450.34 124.45L1450.34 151.35L1423.43 151.35Z" fill="#B177DE" stroke="#B177DE" stroke-width="2" stroke-linejoin="miter"/>
<path d="M1491.34 124.45L1518.24 124.45L1518.24 151.35L1491.34 151.35Z" fill="#B177DE" stroke="#B177DE" stroke-width="2" stroke-linejoin="miter"/>
<path d="M1559.24 124.45L1586.14 124.45L1586.14 151.35L1559.24 151.35Z" fill="#B177DE" stroke="#B177DE" stroke-width="2" stroke-linejoin="miter"/>
<path d="M1627.15 124.45L1654.05 124.45L1654.05 151.35L1627.15 151.35Z" fill="#B177DE" stroke="#B177DE" stroke-width="2" stroke-linejoin="miter"/>
</g>
<g>
<path d="M282.5 1206.1L316.45 1206.1M316.45 1206.1L350.4 1206.1M350.4 1206.1L384.36 1206.1M384.36 1206.1L418.31 1206.1M418.31 1206.1L452.26 1206.1M452.26 1206.1L486.22 1206.1M825.74 137.9L859.69 137.9M859.69 137.9L893.64 137.9M893.64 137.9L927.6 137.9M927.6 137.9L961.55 137.9M961.55 137.9L1029.45 137.9M1029.45 137.9L1097.36 137.9M1097.36 137.9L1165.26 137.9M1165.26 137.9L1233.17 137.9M1233.17 137.9L1301.08 137.9M1301.08 137.9L1368.98 137.9M1368.98 137.9L1436.88 137.9M1436.88 137.9L1504.79 137.9M1504.79 137.9L1572.69 137.9M1572.69 137.9L1640.6 137.9" fill="none" stroke="#CC9900" stroke-width="2.1" stroke-linecap="butt"/>
<path d="M486.22 1206.1L520.17 1174.05M520.17 1174.05L554.12 1155.89M554.12 1155.89L588.07 1144.14M588.07 1144.14L622.02 1131.33M622.02 1131.33L655.98 1099.28M655.98 1099.28L689.93 778.82M689.93 778.82L723.88 565.18M723.88 565.18L757.84 266.08M757.84 266.08L791.79 180.63M791.79 180.63L825.74 137.9" fill="none" stroke="#CC9900" stroke-width="3" stroke-linecap="round"/>
<path d="M282.5 1187.8L286.44 1200.24L299.19 1200.24L288.88 1207.92L292.82 1220.36L282.5 1212.68L272.18 1220.36L276.12 1207.92L265.81 1200.24L278.56 1200.24Z" fill="#CC9900" stroke="#CC9900" stroke-width="3.6" stroke-linejoin="miter" stroke-miterlimit="2"/>
<path d="M316.45 1187.8L320.39 1200.24L333.14 1200.24L322.83 1207.92L326.77 1220.36L316.45 1212.68L306.14 1220.36L310.08 1207.92L299.76 1200.24L312.51 1200.24Z" fill="#CC9900" stroke="#CC9900" stroke-width="3.6" stroke-linejoin="miter" stroke-miterlimit="2"/>
<path d="M350.4 1187.8L354.35 1200.24L367.1 1200.24L356.78 1207.92L360.72 1220.36L350.4 1212.68L340.09 1220.36L344.03 1207.92L333.71 1200.24L346.46 1200.24Z" fill="#CC9900" stroke="#CC9900" stroke-width="3.6" stroke-linejoin="miter" stroke-miterlimit="2"/>
<path d="M384.36 1187.8L388.3 1200.24L401.05 1200.24L390.73 1207.92L394.67 1220.36L384.36 1212.68L374.04 1220.36L377.98 1207.92L367.67 1200.24L380.42 1200.24Z" fill="#CC9900" stroke="#CC9900" stroke-width="3.6" stroke-linejoin="miter" stroke-miterlimit="2"/>
<path d="M418.31 1187.8L422.25 1200.24L435 1200.24L424.69 1207.92L428.63 1220.36L418.31 1212.68L407.99 1220.36L411.93 1207.92L401.62 1200.24L414.37 1200.24Z" fill="#CC9900" stroke="#CC9900" stroke-width="3.6" stroke-linejoin="miter" stroke-miterlimit="2"/>
<path d="M452.26 1187.8L456.2 1200.24L468.95 1200.24L458.64 1207.92L462.58 1220.36L452.26 1212.68L441.95 1220.36L445.89 1207.92L435.57 1200.24L448.32 1200.24Z" fill="#CC9900" stroke="#CC9900" stroke-width="3.6" stroke-linejoin="miter" stroke-miterlimit="2"/>
<path d="M486.22 1187.8L490.16 1200.24L502.91 1200.24L492.59 1207.92L496.53 1220.36L486.22 1212.68L475.9 1220.36L479.84 1207.92L469.52 1200.24L482.27 1200.24Z" fill="#CC9900" stroke="#CC9900" stroke-width="3.6" stroke-linejoin="miter" stroke-miterlimit="2"/>
<path d="M520.17 1155.75L524.11 1168.19L536.86 1168.19L526.54 1175.88L530.48 1188.32L520.17 1180.63L509.85 1188.32L513.79 1175.88L503.48 1168.19L516.23 1168.19Z" fill="#CC9900" stroke="#CC9900" stroke-width="3.6" stroke-linejoin="miter" stroke-miterlimit="2"/>
<path d="M554.12 1137.59L558.06 1150.03L570.81 1150.03L560.5 1157.72L564.44 1170.16L554.12 1162.47L543.8 1170.16L547.74 1157.72L537.43 1150.03L550.18 1150.03Z" fill="#CC9900" stroke="#CC9900" stroke-width="3.6" stroke-linejoin="miter" stroke-miterlimit="2"/>
<path d="M588.07 1125.84L592.01 1138.28L604.76 1138.28L594.45 1145.97L598.39 1158.41L588.07 1150.72L577.76 1158.41L581.7 1145.97L571.38 1138.28L584.13 1138.28Z" fill="#CC9900" stroke="#CC9900" stroke-width="3.6" stroke-linejoin="miter" stroke-miterlimit="2"/>
<path d="M622.02 1113.03L625.97 1125.46L638.72 1125.46L628.4 1133.15L632.34 1145.59L622.02 1137.9L611.71 1145.59L615.65 1133.15L605.33 1125.46L618.08 1125.46Z" fill="#CC9900" stroke="#CC9900" stroke-width="3.6" stroke-linejoin="miter" stroke-miterlimit="2"/>
<path d="M655.98 1080.98L659.92 1093.42L672.67 1093.42L662.35 1101.1L666.29 1113.54L655.98 1105.86L645.66 1113.54L649.6 1101.1L639.29 1093.42L652.04 1093.42Z" fill="#CC9900" stroke="#CC9900" stroke-width="3.6" stroke-linejoin="miter" stroke-miterlimit="2"/>
<path d="M689.93 760.52L693.87 772.96L706.62 772.96L696.31 780.64L700.25 793.08L689.93 785.4L679.61 793.08L683.55 780.64L673.24 772.96L685.99 772.96Z" fill="#CC9900" stroke="#CC9900" stroke-width="3.6" stroke-linejoin="miter" stroke-miterlimit="2"/>
<path d="M723.88 546.88L727.82 559.32L740.57 559.32L730.26 567L734.2 579.44L723.88 571.76L713.57 579.44L717.51 567L707.19 559.32L719.94 559.32Z" fill="#CC9900" stroke="#CC9900" stroke-width="3.6" stroke-linejoin="miter" stroke-miterlimit="2"/>
<path d="M757.84 247.78L761.78 260.22L774.53 260.22L764.21 267.91L768.15 280.35L757.84 272.66L747.52 280.35L751.46 267.91L741.14 260.22L753.89 260.22Z" fill="#CC9900" stroke="#CC9900" stroke-width="3.6" stroke-linejoin="miter" stroke-miterlimit="2"/>
<path d="M791.79 162.33L795.73 174.77L808.48 174.77L798.16 182.45L802.1 194.89L791.79 187.2L781.47 194.89L785.41 182.45L775.1 174.77L787.85 174.77Z" fill="#CC9900" stroke="#CC9900" stroke-width="3.6" stroke-linejoin="miter" stroke-miterlimit="2"/>
<path d="M825.74 119.6L829.68 132.04L842.43 132.04L832.12 139.72L836.06 152.16L825.74 144.48L815.42 152.16L819.36 139.72L809.05 132.04L821.8 132.04Z" fill="#CC9900" stroke="#CC9900" stroke-width="3.6" stroke-linejoin="miter" stroke-miterlimit="2"/>
<path d="M859.69 119.6L863.63 132.04L876.38 132.04L866.07 139.72L870.01 152.16L859.69 144.48L849.38 152.16L853.32 139.72L843 132.04L855.75 132.04Z" fill="#CC9900" stroke="#CC9900" stroke-width="3.6" stroke-linejoin="miter" stroke-miterlimit="2"/>
<path d="M893.64 119.6L897.59 132.04L910.34 132.04L900.02 139.72L903.96 152.16L893.64 144.48L883.33 152.16L887.27 139.72L876.95 132.04L889.7 132.04Z" fill="#CC9900" stroke="#CC9900" stroke-width="3.6" stroke-linejoin="miter" stroke-miterlimit="2"/>
<path d="M927.6 119.6L931.54 132.04L944.29 132.04L933.97 139.72L937.91 152.16L927.6 144.48L917.28 152.16L921.22 139.72L910.91 132.04L923.66 132.04Z" fill="#CC9900" stroke="#CC9900" stroke-width="3.6" stroke-linejoin="miter" stroke-miterlimit="2"/>
<path d="M961.55 119.6L965.49 132.04L978.24 132.04L967.93 139.72L971.87 152.16L961.55 144.48L951.23 152.16L955.17 139.72L944.86 132.04L957.61 132.04Z" fill="#CC9900" stroke="#CC9900" stroke-width="3.6" stroke-linejoin="miter" stroke-miterlimit="2"/>
<path d="M1029.45 119.6L1033.4 132.04L1046.15 132.04L1035.83 139.72L1039.77 152.16L1029.45 144.48L1019.14 152.16L1023.08 139.72L1012.76 132.04L1025.51 132.04Z" fill="#CC9900" stroke="#CC9900" stroke-width="3.6" stroke-linejoin="miter" stroke-miterlimit="2"/>
<path d="M1097.36 119.6L1101.3 132.04L1114.05 132.04L1103.74 139.72L1107.68 152.16L1097.36 144.48L1087.04 152.16L1090.98 139.72L1080.67 132.04L1093.42 132.04Z" fill="#CC9900" stroke="#CC9900" stroke-width="3.6" stroke-linejoin="miter" stroke-miterlimit="2"/>
<path d="M1165.26 119.6L1169.21 132.04L1181.96 132.04L1171.64 139.72L1175.58 152.16L1165.26 144.48L1154.95 152.16L1158.89 139.72L1148.57 132.04L1161.32 132.04Z" fill="#CC9900" stroke="#CC9900" stroke-width="3.6" stroke-linejoin="miter" stroke-miterlimit="2"/>
<path d="M1233.17 119.6L1237.11 132.04L1249.86 132.04L1239.55 139.72L1243.49 152.16L1233.17 144.48L1222.85 152.16L1226.79 139.72L1216.48 132.04L1229.23 132.04Z" fill="#CC9900" stroke="#CC9900" stroke-width="3.6" stroke-linejoin="miter" stroke-miterlimit="2"/>
<path d="M1301.08 119.6L1305.02 132.04L1317.77 132.04L1307.45 139.72L1311.39 152.16L1301.08 144.48L1290.76 152.16L1294.7 139.72L1284.38 132.04L1297.13 132.04Z" fill="#CC9900" stroke="#CC9900" stroke-width="3.6" stroke-linejoin="miter" stroke-miterlimit="2"/>
<path d="M1368.98 119.6L1372.92 132.04L1385.67 132.04L1375.36 139.72L1379.3 152.16L1368.98 144.48L1358.66 152.16L1362.6 139.72L1352.29 132.04L1365.04 132.04Z" fill="#CC9900" stroke="#CC9900" stroke-width="3.6" stroke-linejoin="miter" stroke-miterlimit="2"/>
<path d="M1436.88 119.6L1440.83 132.04L1453.58 132.04L1443.26 139.72L1447.2 152.16L1436.88 144.48L1426.57 152.16L1430.51 139.72L1420.19 132.04L1432.94 132.04Z" fill="#CC9900" stroke="#CC9900" stroke-width="3.6" stroke-linejoin="miter" stroke-miterlimit="2"/>
<path d="M1504.79 119.6L1508.73 132.04L1521.48 132.04L1511.17 139.72L1515.11 152.16L1504.79 144.48L1494.47 152.16L1498.41 139.72L1488.1 132.04L1500.85 132.04Z" fill="#CC9900" stroke="#CC9900" stroke-width="3.6" stroke-linejoin="miter" stroke-miterlimit="2"/>
<path d="M1572.69 119.6L1576.64 132.04L1589.39 132.04L1579.07 139.72L1583.01 152.16L1572.69 144.48L1562.38 152.16L1566.32 139.72L1556 132.04L1568.75 132.04Z" fill="#CC9900" stroke="#CC9900" stroke-width="3.6" stroke-linejoin="miter" stroke-miterlimit="2"/>
<path d="M1640.6 119.6L1644.54 132.04L1657.29 132.04L1646.98 139.72L1650.92 152.16L1640.6 144.48L1630.28 152.16L1634.22 139.72L1623.91 132.04L1636.66 132.04Z" fill="#CC9900" stroke="#CC9900" stroke-width="3.6" stroke-linejoin="miter" stroke-miterlimit="2"/>
</g>
</g>
<g id="axes" stroke="#000" stroke-width="6" fill="none" stroke-linecap="butt">
<path d="M245 31 H1848 M245 1313 H1848 M248 31 V1313 M1845 31 V1313"/>
<path d="M236 1312.92 H246 M223 1206.1 H246 M236 1099.28 H246 M223 992.46 H246 M236 885.64 H246 M223 778.82 H246 M236 672 H246 M223 565.18 H246 M236 458.36 H246 M223 351.54 H246 M236 244.72 H246 M223 137.9 H246 M236 31.08 H246"/>
<path d="M1819 1206.1 H1843 M1819 992.46 H1843 M1819 778.82 H1843 M1819 565.18 H1843 M1819 351.54 H1843 M1819 137.9 H1843"/>
<path d="M282 1315 V1338 M451.88 1315 V1325 M621.75 1315 V1338 M791.62 1315 V1325 M961.5 1315 V1338 M1131.38 1315 V1325 M1301.25 1315 V1338 M1471.12 1315 V1325 M1641 1315 V1338 M1810.88 1315 V1325"/>
</g>
<g id="ticklabels" class="tick" transform="scale(0.955 1)">
<text x="131.62 159.58 188.17" y="1227.1">0.0</text>
<text x="131.62 159.58 188.17" y="1013.46">0.2</text>
<text x="131.62 159.58 188.17" y="799.82">0.4</text>
<text x="131.62 159.58 188.17" y="586.18">0.6</text>
<text x="131.62 159.58 188.17" y="372.54">0.8</text>
<text x="131.2 159.58 188.17" y="158.9">1.0</text>
<text x="283.25" y="1400.5">0</text>
<text x="639.01" y="1400.5">5</text>
<text x="980.21 1008.9" y="1400.5">10</text>
<text x="1335.97 1364.66" y="1400.5">15</text>
<text x="1692.15 1720.42" y="1400.5">20</text>
</g>
<text class="ttl" x="1047.3" y="1509" text-anchor="middle">Time (h)</text>
<text class="ttl" transform="translate(74.5 672) rotate(-90)" text-anchor="middle" stroke="#000" stroke-width="0.3">C<tspan font-size="58px" dy="21.5">t</tspan><tspan dy="-21.5">/C</tspan><tspan font-size="58px" dy="21.5">0</tspan></text>
<g id="legend" shape-rendering="crispEdges">
<rect x="1220.5" y="853.5" width="624" height="455" fill="#fff" stroke="#000" stroke-width="3"/>
<line x1="1228.5" y1="895.5" x2="1364.5" y2="895.5" stroke="#515151" stroke-width="3" stroke-linecap="round"/>
<path d="M1296.5 876L1313.82 906L1279.18 906Z" fill="#fff" stroke="#515151" stroke-width="3.4" stroke-linejoin="round"/>
<text class="leg" x="1365.5" y="915.4" xml:space="preserve">5 mL/min</text>
<line x1="1227.2" y1="969.7" x2="1365.8" y2="969.7" stroke="#F14040" stroke-width="2.3" stroke-linecap="butt"/>
<path d="M1283.8 957L1309.2 957L1309.2 982.4L1283.8 982.4Z" fill="#fff" stroke="#F14040" stroke-width="3.2" stroke-linejoin="miter"/>
<text class="leg" x="1365.5" y="989.7" xml:space="preserve">10mL/min</text>
<line x1="1227.2" y1="1043.9" x2="1365.8" y2="1043.9" stroke="#1A6FDF" stroke-width="2.3" stroke-linecap="butt"/>
<path d="M1296.5 1025.7L1300.42 1038.07L1313.1 1038.07L1302.84 1045.71L1306.76 1058.08L1296.5 1050.44L1286.24 1058.08L1290.16 1045.71L1279.9 1038.07L1292.58 1038.07Z" fill="#fff" stroke="#1A6FDF" stroke-width="3.4" stroke-linejoin="miter" stroke-miterlimit="2"/>
<text class="leg" x="1365.5" y="1064" xml:space="preserve">15mL/min</text>
<line x1="1228.5" y1="1118.1" x2="1364.5" y2="1118.1" stroke="#37AD6B" stroke-width="3" stroke-linecap="round"/>
<path d="M1296.5 1097.4L1314.86 1129.2L1278.14 1129.2Z" fill="#37AD6B" stroke="#37AD6B" stroke-width="2.2" stroke-linejoin="round"/>
<text class="leg" x="1365.5" y="1138.3" xml:space="preserve">5 mL/min<tspan dx="2.4"> w WMF</tspan></text>
<line x1="1228.5" y1="1192.3" x2="1364.5" y2="1192.3" stroke="#B177DE" stroke-width="2.8" stroke-linecap="round"/>
<path d="M1283.05 1178.85L1309.95 1178.85L1309.95 1205.75L1283.05 1205.75Z" fill="#B177DE" stroke="#B177DE" stroke-width="2" stroke-linejoin="miter"/>
<text class="leg" x="1365.5" y="1212.6" xml:space="preserve">10mL/min<tspan dx="2.4"> w WMF</tspan></text>
<line x1="1228.5" y1="1266.5" x2="1364.5" y2="1266.5" stroke="#CC9900" stroke-width="3" stroke-linecap="round"/>
<path d="M1296.5 1248.2L1300.44 1260.64L1313.19 1260.64L1302.88 1268.32L1306.82 1280.76L1296.5 1273.08L1286.18 1280.76L1290.12 1268.32L1279.81 1260.64L1292.56 1260.64Z" fill="#CC9900" stroke="#CC9900" stroke-width="3.6" stroke-linejoin="miter" stroke-miterlimit="2"/>
<text class="leg" x="1365.5" y="1286.9" xml:space="preserve">15mL/min<tspan dx="2.4"> w WMF</tspan></text>
</g>
</svg>
</body>
</html>
